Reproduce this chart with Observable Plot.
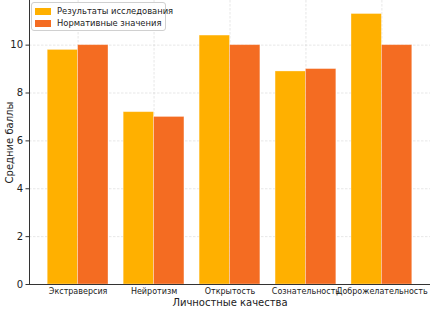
<!DOCTYPE html>
<html><head><meta charset="utf-8">
<script src="https://cdn.jsdelivr.net/npm/d3@7"></script>
<script src="https://cdn.jsdelivr.net/npm/@observablehq/plot@0.6"></script>
<style>
body{margin:0;background:white;font-family:"DejaVu Sans",sans-serif;}
#wrap{position:relative;width:433px;height:311px;}
#legend{position:absolute;left:31px;top:2px;width:135px;height:29px;box-sizing:border-box;border:1px solid #d0d0d0;border-radius:3px;background:rgba(255,255,255,0.85);font-size:8.4px;color:#222;padding:3px 0 0 3px;}
#legend .row{display:block;height:11.5px;line-height:11.5px;white-space:nowrap;}
#legend svg{vertical-align:middle;margin-right:6px;}
</style></head><body><div id="wrap"></div>
<script>
const categories = ["Экстраверсия","Нейротизм","Открытость","Сознательность","Доброжелательность"];
const research = [9.8, 7.2, 10.4, 8.9, 11.3];
const norms = [10, 7, 10, 9, 10];
const seriesNames = ["Результаты исследования","Нормативные значения"];
const colors = ["#FFB000","#F46C22"];
const yTicks = [0,2,4,6,8,10];
const xTitle = "Личностные качества";
const yTitle = "Средние баллы";

const data = categories.map((c,i)=>({category:c, research:research[i], norm:norms[i]}));
const half = 30.38;
const plot = Plot.plot({
  width:433, height:311, marginLeft:29, marginRight:3, marginTop:0, marginBottom:27,
  style:{fontFamily:"DejaVu Sans", background:"white", color:"#222"},
  x:{domain:categories, paddingInner:0.2, paddingOuter:0.24, round:false},
  y:{domain:[0,11.865]},
  marks:[
    Plot.gridX(categories,{stroke:"#ccc", strokeOpacity:0.6, strokeDasharray:"2.5,1.5", strokeWidth:0.8}),
    Plot.gridY(yTicks,{stroke:"#ccc", strokeOpacity:0.6, strokeDasharray:"2.5,1.5", strokeWidth:0.8}),
    Plot.barY(data,{x:"category", y:"research", fill:colors[0], insetRight:half, stroke:"white", strokeOpacity:0.4, strokeWidth:0.8}),
    Plot.barY(data,{x:"category", y:"norm", fill:colors[1], insetLeft:half, stroke:"white", strokeOpacity:0.4, strokeWidth:0.8}),
    Plot.axisY(yTicks,{fontSize:10, tickSize:3.5, tickPadding:3, stroke:"#333", label:yTitle, labelAnchor:"center", labelArrow:"none", labelOffset:24}),
    Plot.axisX({fontSize:8, tickSize:0, tickPadding:4, label:null}),
    Plot.text([xTitle],{frameAnchor:"bottom", dy:18, fontSize:10, lineAnchor:"middle", fill:"#222"}),
    Plot.ruleY([0],{stroke:"#333", strokeWidth:1}),
    Plot.frame({anchor:"left", stroke:"#333", strokeWidth:1})
  ]
});
document.getElementById("wrap").appendChild(plot);
const lg = document.createElement("div");
lg.id = "legend";
lg.innerHTML = seriesNames.map((n,i)=>`<div class="row"><svg width="16" height="7"><rect x="0" y="0" width="16" height="7" fill="${colors[i]}"/></svg>${n}</div>`).join("");
document.getElementById("wrap").appendChild(lg);
</script></body></html>
